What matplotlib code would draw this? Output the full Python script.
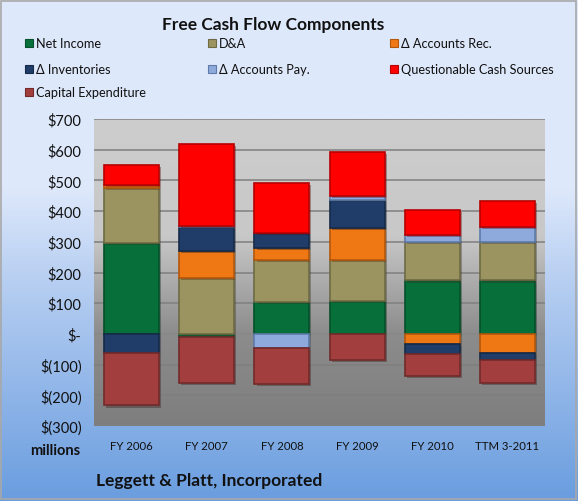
import numpy as np
import matplotlib
matplotlib.use("Agg")
import matplotlib.pyplot as plt
from matplotlib.patches import Rectangle
from matplotlib.colors import LinearSegmentedColormap
import matplotlib.patheffects as pe

plt.rcParams['font.family'] = ['Lato', 'DejaVu Sans']

categories = ["FY 2006", "FY 2007", "FY 2008", "FY 2009", "FY 2010", "TTM 3-2011"]
series_names = ["Net Income", "D&A", "\u0394 Accounts Rec.", "\u0394 Inventories",
                "\u0394 Accounts Pay.", "Questionable Cash Sources", "Capital Expenditure"]
net_income = [297, -10, 104, 108, 174, 174]
d_and_a = [178, 182, 138, 133, 125, 125]
accounts_rec = [10, 89, 38, 104, -33, -63]
inventories = [-62, 76, 48, 91, -32, -22]
accounts_pay = [0, 5, -46, 12, 23, 49]
questionable = [66, 268, 163, 144, 82, 85]
capex = [-171, -150, -118, -84, -72, -76]
colors = ["#07703a", "#9c9460", "#f07814", "#1f3d68", "#8eaadc", "#ff0000", "#a23e3e"]
edge_colors = ["#04502a", "#6e6a44", "#b2570c", "#152a48", "#5d7aa8", "#b80000", "#722a2a"]
yticks = [700, 600, 500, 400, 300, 200, 100, 0, -100, -200, -300]
ytick_labels = ["$700", "$600", "$500", "$400", "$300", "$200", "$100", "$-",
                "$(100)", "$(200)", "$(300)"]

W, H = 578, 502
fig = plt.figure(figsize=(W / 100, H / 100), dpi=100)

# figure background gradient
bg = fig.add_axes([0, 0, 1, 1], zorder=-10)
bg.set_axis_off()
t = np.linspace(0, 1, 256)
cmap_bg = LinearSegmentedColormap.from_list("bg", [(0, "#6a9ddf"), (0.45, "#b9d0f2"), (0.62, "#dde8fb"), (1, "#dfe9fc")])
bg.imshow(t[:, None], aspect="auto", cmap=cmap_bg, origin="lower", extent=[0, 1, 0, 1])
bg.set_xlim(0, 1); bg.set_ylim(0, 1)
bg.add_patch(Rectangle((0.002, 0.003), 0.994, 0.993, fill=False, edgecolor="#a8a8a8", lw=1.2))

ax = fig.add_axes([94 / W, 1 - 427 / H, (545 - 94) / W, (427 - 120) / H])
x = np.arange(len(categories))
ax.set_xlim(-0.5, len(categories) - 0.5)
ax.set_ylim(-300, 700)

cmap_pa = LinearSegmentedColormap.from_list("pa", [(0, "#7e7e7e"), (0.3, "#8c8c8c"), (0.62, "#c8c8c8"), (1, "#cdcdcd")])
ax.imshow(t[:, None], aspect="auto", cmap=cmap_pa, origin="lower",
          extent=[-0.5, len(categories) - 0.5, -300, 700], zorder=0)

for yv in yticks[:-1]:
    ax.axhline(yv, color="#7f7f7f", lw=1.1, zorder=1)
ax.axhline(0, color="#8a8a8a", lw=1.3, zorder=1)
ax.vlines(np.arange(len(categories) + 1) - 0.5, 0, 10, color="#8a8a8a", lw=1, zorder=1)

data = [net_income, d_and_a, accounts_rec, inventories, accounts_pay, questionable, capex]
pos_base = np.zeros(len(categories))
neg_base = np.zeros(len(categories))
shadow = [pe.SimplePatchShadow(offset=(1.5, -1.5), alpha=0.35), pe.Normal()]
for vals, c, ec in zip(data, colors, edge_colors):
    v = np.array(vals, dtype=float)
    bottoms = np.where(v >= 0, pos_base, neg_base)
    bars = ax.bar(x, v, bottom=bottoms, width=0.73, color=c, edgecolor=ec, lw=1.2, zorder=3)
    for b in bars:
        b.set_path_effects(shadow)
    pos_base = pos_base + np.where(v > 0, v, 0)
    neg_base = neg_base + np.where(v < 0, v, 0)

for s in ax.spines.values():
    s.set_visible(False)
ax.set_yticks(yticks)
ax.set_yticklabels(ytick_labels, fontsize=10.5, color="#111111")
ax.set_xticks(x)
ax.set_xticklabels(categories, fontsize=8.2, color="#111111")
ax.tick_params(axis="y", length=0, pad=9)
ax.tick_params(axis="x", length=0, pad=10)

fig.text(273 / W, 1 - 25 / H, "Free Cash Flow Components", ha="center", va="center",
         fontsize=12.5, fontweight="bold", color="#111111")

leg_cols = [25, 208, 390]
leg_rows = [44, 70, 93]
order = [(0, 0), (1, 0), (2, 0), (0, 1), (1, 1), (2, 1), (0, 2)]
for name, c, ec, (ci, ri) in zip(series_names, colors, edge_colors, order):
    lx, ly = leg_cols[ci], leg_rows[ri]
    fig.patches.append(Rectangle((lx / W, 1 - (ly + 4) / H), 8 / W, 8 / H, facecolor=c,
                                 edgecolor=ec, lw=0.8, transform=fig.transFigure, figure=fig))
    fig.text((lx + 11) / W, 1 - ly / H, name, ha="left", va="center", fontsize=9.2, color="#111111")

fig.text(80 / W, 1 - 451 / H, "millions", ha="right", va="center", fontsize=10.5,
         fontweight="bold", color="#111111")
fig.text(96 / W, 1 - 481 / H, "Leggett & Platt, Incorporated", ha="left", va="center",
         fontsize=12.5, fontweight="bold", color="#111111")

fig.savefig("out.png", dpi=100)
